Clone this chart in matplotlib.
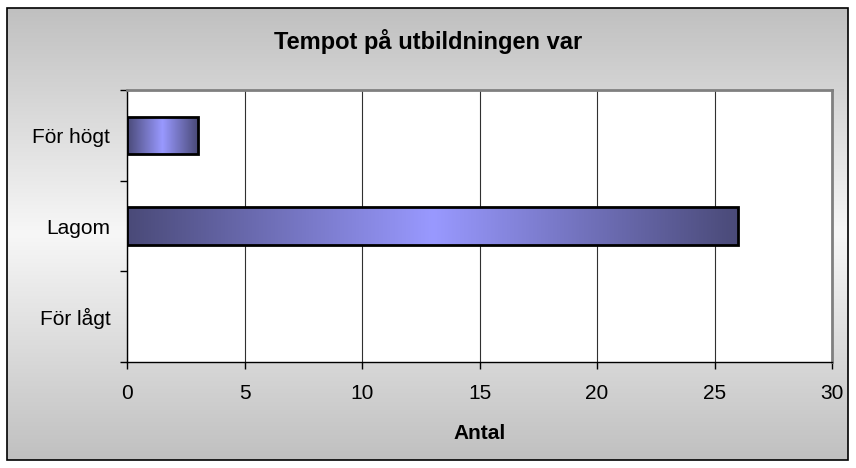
import numpy as np
import matplotlib.pyplot as plt
from matplotlib.colors import LinearSegmentedColormap
from matplotlib.patches import Rectangle

plt.rcParams['font.family'] = ['Liberation Sans', 'DejaVu Sans']

categories = ['För lågt', 'Lagom', 'För högt']
values = [0, 26, 3]
title = 'Tempot på utbildningen var'
xlabel = 'Antal'

fig = plt.figure(figsize=(8.56, 4.68), dpi=100)

# background of the chart area: grey -> white -> grey
bg = fig.add_axes([0, 0, 1, 1], zorder=-10)
bg_cmap = LinearSegmentedColormap.from_list('bg', ['#c0c0c0', '#f7f7f7', '#c0c0c0'])
grad = np.linspace(0, 1, 256).reshape(-1, 1)
bg.imshow(grad, cmap=bg_cmap, aspect='auto', extent=[7, 848, 460, 8])
bg.add_patch(Rectangle((7, 8), 841, 452, fill=False, edgecolor='black', lw=1.2))
bg.set_xlim(0, 856)
bg.set_ylim(468, 0)
bg.axis('off')

ax = fig.add_axes([127 / 856, 106 / 468, 705 / 856, 272 / 468])
ax.set_facecolor('white')

bar_cmap = LinearSegmentedColormap.from_list('bar', ['#4a4a78', '#9999ff', '#4a4a78'])
h = 0.41
ypos = np.arange(len(categories))
bars = ax.barh(ypos, values, height=h, color='none', edgecolor='black', lw=2, zorder=3)
for b, v in zip(bars, values):
    if v <= 0:
        b.set_linewidth(0)
        continue
    y0 = b.get_y()
    im = ax.imshow(np.linspace(0, 1, 256).reshape(1, -1), cmap=bar_cmap, aspect='auto',
                   extent=[0, v, y0, y0 + h], zorder=2)
    im.set_clip_path(b)
ax.set_xlim(0, 30)
ax.set_ylim(-0.5, 2.5)

ax.set_xticks(np.arange(0, 31, 5))
ax.grid(axis='x', color='#303030', lw=0.8)
ax.set_axisbelow(True)
ax.set_yticks(ypos)
ax.set_yticklabels(categories)
ax.set_yticks([-0.5, 0.5, 1.5, 2.5], minor=True)
ax.tick_params(axis='y', which='major', length=0, pad=12, labelsize=15)
ax.tick_params(axis='y', which='minor', length=5, direction='out', width=1)
ax.tick_params(axis='x', length=5, direction='out', width=1, pad=11, labelsize=15)

for s in ['top', 'right']:
    ax.spines[s].set_color('#808080')
    ax.spines[s].set_linewidth(2)
for s in ['left', 'bottom']:
    ax.spines[s].set_color('black')
    ax.spines[s].set_linewidth(1)

ax.set_xlabel(xlabel, fontsize=15, fontweight='bold', labelpad=15)
fig.text(428 / 856, 1 - 42 / 468, title, ha='center', va='center', fontsize=17, fontweight='bold')

fig.savefig('out.png', dpi=100)
